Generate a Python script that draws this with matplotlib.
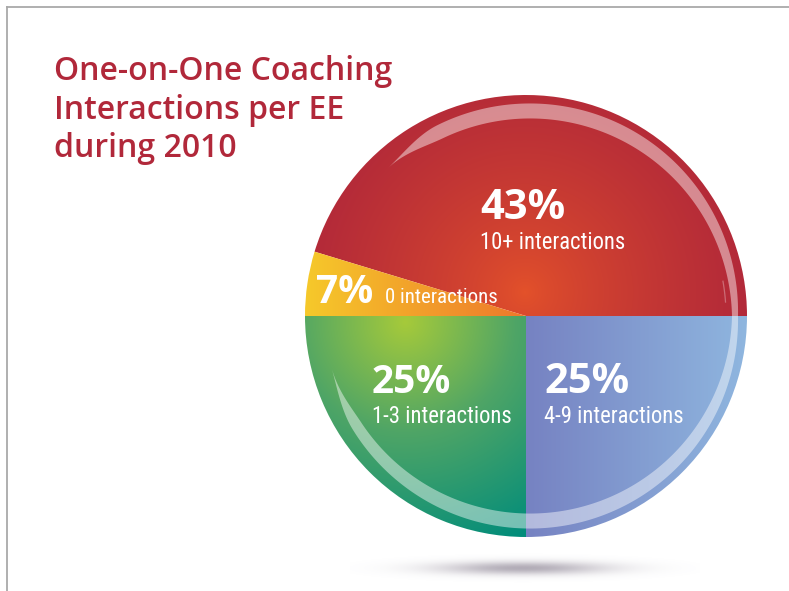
import numpy as np
import matplotlib.pyplot as plt
from matplotlib.colors import to_rgb
from matplotlib.patches import Polygon


# Chart data

categories = ["10+ interactions", "0 interactions", "1-3 interactions", "4-9 interactions"]
pct_labels = ["43%", "7%", "25%", "25%"]
# wedge sizes as they are drawn in the picture (percent of the circle)
slice_share = [45.3, 4.7, 25, 25]

title_lines = ["One-on-One Coaching", "Interactions per EE", "during 2010"]


# Canvas: one data unit = one pixel, y measured upward

W, H = 789, 591
fig = plt.figure(figsize=(7.89, 5.91), dpi=100)
ax = fig.add_axes([0, 0, 1, 1])

cx, cy, R = 526, H - 316, 221

wedges, _ = ax.pie(slice_share, startangle=0, counterclock=True,
                   center=(cx, cy), radius=R,
                   wedgeprops=dict(facecolor="none", edgecolor="none"))

ax.set_xlim(0, W)
ax.set_ylim(0, H)
ax.set_aspect("equal")
ax.axis("off")


# Gradient fills, clipped to the wedges

x0, x1, y0, y1 = 300, 752, 90, 542          # screen box around the pie
X, Y = np.meshgrid(np.linspace(x0, x1, 460), np.linspace(y0, y1, 460))


def mix(c1, c2, t):
    c1 = np.array(to_rgb(c1))
    c2 = np.array(to_rgb(c2))
    t = np.clip(t, 0, 1)[..., None]
    return c1 * (1 - t) + c2 * t


d_red = np.hypot(X - 525, Y - 292)
red_img = mix("#E4522A", "#B0273A", (d_red / 235) ** 0.75)

yellow_img = mix("#F6C92A", "#EE7A2C", (X - 305) / 215)

d_green = np.hypot(X - 405, Y - 322) / 245
green_img = np.where(d_green[..., None] < 0.45,
                     mix("#A6CA3A", "#4FA566", d_green / 0.45),
                     mix("#4FA566", "#008C7B", (d_green - 0.45) / 0.55))

blue_img = mix("#7682C2", "#8FB6DF", (X - 526) / 221)

for wedge, img in zip(wedges, [red_img, yellow_img, green_img, blue_img]):
    im = ax.imshow(img, extent=(x0, x1, H - y1, H - y0), origin="upper",
                   interpolation="bilinear", zorder=1)
    im.set_clip_path(wedge)


# Glossy highlight band inside the rim

th = np.radians(np.linspace(133, -165, 500))
r_mid = 205 + 4 * np.cos(th)
band_w = 6 + 9 * np.abs(np.sin(th))
deg = np.degrees(th)
taper = np.clip(np.minimum((133 - deg) / 18, (deg + 165) / 18), 0, 1)
taper = taper * taper * (3 - 2 * taper)
band_w = band_w * taper

outer = np.column_stack([cx + (r_mid + band_w / 2) * np.cos(th),
                         cy + (r_mid + band_w / 2) * np.sin(th)])
inner = np.column_stack([cx + (r_mid - band_w / 2) * np.cos(th),
                         cy + (r_mid - band_w / 2) * np.sin(th)])
ax.add_patch(Polygon(np.vstack([outer, inner[::-1]]), closed=True,
                     facecolor="white", edgecolor="none", alpha=0.45, zorder=2))

# small extra glint on the right side
th2 = np.radians(np.linspace(4, 10, 30))
ax.plot(cx + 200 * np.cos(th2), cy + 200 * np.sin(th2),
        color="white", alpha=0.3, lw=0.9, zorder=2)


# Soft shadow under the pie

sx, sy = np.meshgrid(np.linspace(350, 700, 300), np.linspace(545, 592, 60))
shadow_alpha = 0.6 * np.exp(-(((sx - 523) / 140) ** 2 + ((sy - 568) / 11) ** 2) * 2.8)
shadow = np.zeros(sx.shape + (4,))
shadow[..., :3] = to_rgb("#7F7587")
shadow[..., 3] = shadow_alpha
ax.imshow(shadow, extent=(350, 700, H - 592, H - 545), origin="upper",
          interpolation="bilinear", zorder=0)


# Frame lines (top and left)

ax.plot([7, W], [H - 7, H - 7], color="#A9A9A9", lw=1.3, zorder=3)
ax.plot([7, 7], [0, H - 7], color="#A9A9A9", lw=1.3, zorder=3)


# Title

title_baselines = [80, 119, 157]
for line, base in zip(title_lines, title_baselines):
    ax.text(54, H - base, line, fontsize=23, color="#B1283A",
            family=["Open Sans", "DejaVu Sans"], weight="semibold",
            ha="left", va="baseline", zorder=4)


# Slice labels

pct_pos = [(480, 219), (316, 303), (372, 393), (544, 393)]
pct_size = [30, 28, 28, 30]
cat_pos = [(480, 249), (385, 303), (372, 423), (544, 423)]
cat_size = [16.3, 15, 16.3, 16.3]

narrow = ["Roboto Condensed", "DejaVu Sans"]

for i in range(len(categories)):
    ax.text(pct_pos[i][0], H - pct_pos[i][1], pct_labels[i],
            fontsize=pct_size[i], color="white", weight="bold",
            family=["Open Sans", "DejaVu Sans"],
            ha="left", va="baseline", zorder=4)
    ax.text(cat_pos[i][0], H - cat_pos[i][1], categories[i],
            fontsize=cat_size[i], color="white", family=narrow,
            ha="left", va="baseline", zorder=4)

plt.savefig("out.png", dpi=100)
